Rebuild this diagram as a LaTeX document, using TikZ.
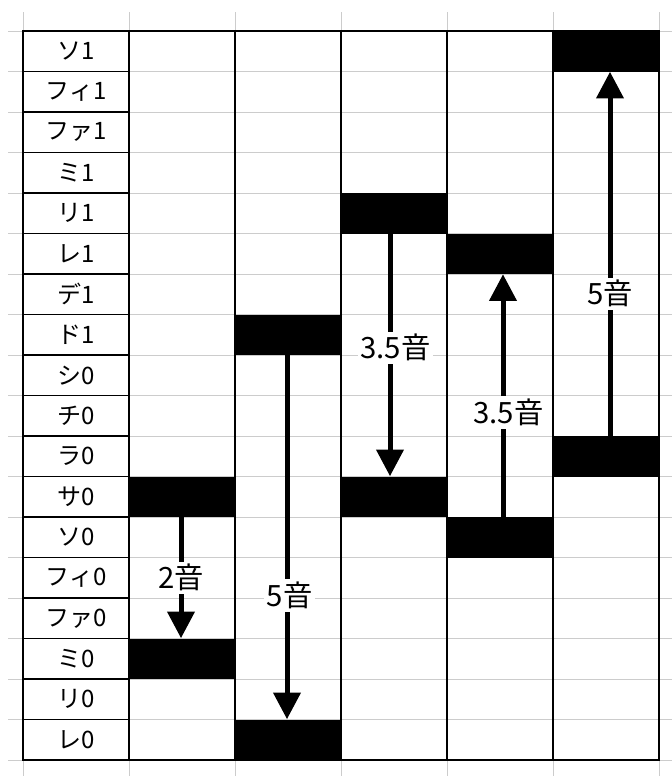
\documentclass[tikz,border=0pt]{standalone}
\usepackage{fontspec}
\setmainfont{Noto Sans CJK JP}
\usetikzlibrary{arrows.meta, positioning}

\tikzset{
  sheet/.style={gray!40, line width=0.75pt},
  rule/.style={black, line width=1.1pt},
  cell/.style={rule, draw, minimum width=79.5pt, minimum height=30.375pt, inner sep=0pt,
    font=\fontsize{18}{18}\selectfont},
  bar/.style={fill=black, minimum width=79.5pt, minimum height=30.375pt, inner sep=0pt},
  jump/.style={line width=3.75pt, -{Triangle[width=20pt, length=20pt]}},
  gap/.style={fill=white, inner sep=2pt, font=\fontsize{22}{22}\selectfont},
}

\begin{document}
\begin{tikzpicture}[x=0.75pt, y=-0.75pt]
  \useasboundingbox (0,0) rectangle (672,776);

  \foreach \r in {0,...,18} \draw[sheet] (8,31+40.5*\r) -- (672,31+40.5*\r);
  \foreach \c in {0,...,6} \draw[sheet] (23+106*\c,12) -- (23+106*\c,776);

  \foreach \t [count=\i from 0] in {ソ1,フィ1,ファ1,ミ1,リ1,レ1,デ1,ド1,シ0,チ0,ラ0,サ0,ソ0,フィ0,ファ0,ミ0,リ0,レ0}
    \node[cell] (n\i) at (76,51.25+40.5*\i) {\t};

  \node[bar] (a1) at (182,0 |- n11) {};
  \node[bar] (a2) at (182,0 |- n15) {};
  \node[bar] (b1) at (288,0 |- n7) {};
  \node[bar] (b2) at (288,0 |- n17) {};
  \node[bar] (c1) at (394,0 |- n4) {};
  \node[bar] (c2) at (394,0 |- n11) {};
  \node[bar] (d1) at (500,0 |- n5) {};
  \node[bar] (d2) at (500,0 |- n12) {};
  \node[bar] (e1) at (606,0 |- n0) {};
  \node[bar] (e2) at (606,0 |- n10) {};

  \draw[rule] (23,31) rectangle (659,760);
  \foreach \c in {1,...,5} \draw[rule] (23+106*\c,31) -- (23+106*\c,760);

  \draw[jump] ([xshift=-0.75pt]a1.south) -- node[gap, pos=0.5] {2音} ([xshift=-0.75pt]a2.north);
  \draw[jump] ([xshift=-0.75pt]b1.south) -- node[gap, pos=0.66, xshift=2pt] {5音} ([xshift=-0.75pt]b2.north);
  \draw[jump] ([xshift=-3pt]c1.south) -- node[gap, pos=0.47, xshift=4pt] {3.5音} ([xshift=-3pt]c2.north);
  \draw[jump] ([xshift=2.25pt]d2.north) -- node[gap, pos=0.43, xshift=4pt] {3.5音} ([xshift=2.25pt]d1.south);
  \draw[jump] ([xshift=3pt]e2.north) -- node[gap, pos=0.39] {5音} ([xshift=3pt]e1.south);
\end{tikzpicture}
\end{document}
